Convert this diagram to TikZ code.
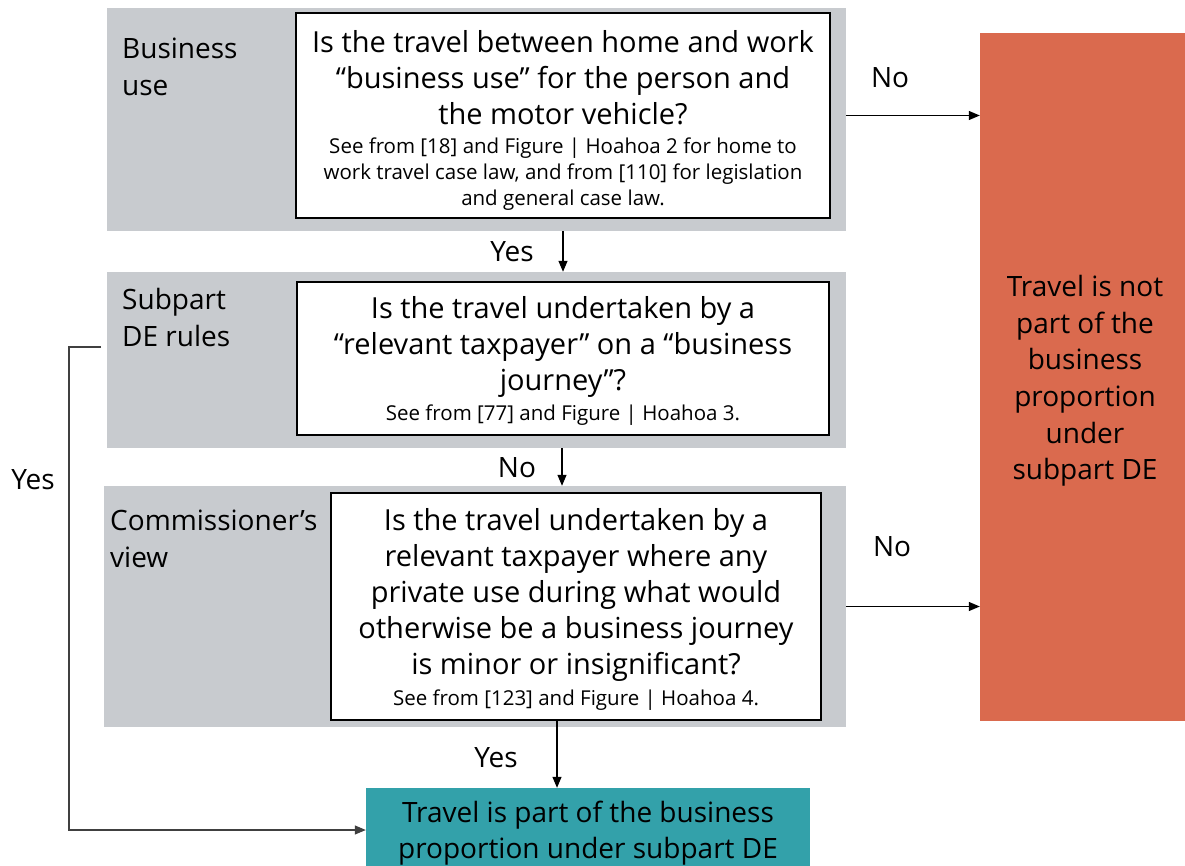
\documentclass[tikz,border=0pt]{standalone}
\usepackage{fontspec}
\setmainfont{Open Sans}
\usetikzlibrary{arrows.meta}
\definecolor{bandgray}{RGB}{200,203,207}
\definecolor{redbox}{RGB}{218,106,78}
\definecolor{tealbox}{RGB}{51,161,170}
\newcommand{\bigq}{\fontsize{29}{36}\selectfont}
\newcommand{\smallq}{\fontsize{20.5}{26}\selectfont}
\newcommand{\labf}{\fontsize{28}{37}\selectfont}
\tikzset{
  band/.style={fill=bandgray, draw=none, inner sep=0pt},
  qbox/.style={fill=white, draw=black, line width=1.6pt, inner sep=0pt},
  bigtxt/.style={inner sep=0pt, align=center, font=\bigq},
  smalltxt/.style={inner sep=0pt, align=center, font=\smallq},
  arr/.style={draw=black, line width=1.2pt, -{Triangle[length=11pt,width=9pt]}},
  lab/.style={inner sep=0pt, font=\labf},
  sidelab/.style={inner sep=0pt, font=\labf, align=left, anchor=north west},
}
\begin{document}
\begin{tikzpicture}[x=1pt,y=-1pt]
\useasboundingbox (0,0) rectangle (1185,866);
\clip (0,0) rectangle (1185,866);
% bands
\node[band, minimum width=739pt, minimum height=223pt] (band1) at (476.5,119.5) {};
\node[band, minimum width=739pt, minimum height=176pt] (band2) at (476.5,360) {};
\node[band, minimum width=742pt, minimum height=241pt] (band3) at (475,606.5) {};
% question boxes
\node[qbox, minimum width=534pt, minimum height=205pt] (box1) at (563,115.5) {};
\node[qbox, minimum width=532pt, minimum height=153pt] (box2) at (563,358.5) {};
\node[qbox, minimum width=490pt, minimum height=227pt] (box3) at (576,606.5) {};
\node[bigtxt] (q1) at (563,78) {Is the travel between home and work\\ “business use” for the person and\\ the motor vehicle?};
\node[smalltxt] (s1) at (563,174) {See from [18] and Figure | Hoahoa 2 for home to\\ work travel case law, and from [110] for legislation\\ and general case law.};
\node[bigtxt] (q2) at (563,347) {Is the travel undertaken by a\\ “relevant taxpayer” on a “business\\ journey”?};
\node[smalltxt] (s2) at (563,415) {See from [77] and Figure | Hoahoa 3.};
\node[bigtxt] (q3) at (576,595) {Is the travel undertaken by a\\ relevant taxpayer where any\\ private use during what would\\ otherwise be a business journey\\ is minor or insignificant?};
\node[smalltxt] (s3) at (576,700) {See from [123] and Figure | Hoahoa 4.};
% outcome boxes
\node[fill=redbox, draw=none, minimum width=205pt, minimum height=688pt, inner sep=0pt] (red) at (1082.5,377) {};
\node[align=center, font=\fontsize{28}{36.6}\selectfont, inner sep=0pt] (redtxt) at (1085,381)
 {Travel is not\\ part of the\\ business\\ proportion\\ under\\ subpart DE};
\node[fill=tealbox, draw=none, minimum width=444pt, minimum height=84pt, inner sep=0pt] (teal) at (588,830) {};
\node[align=center, font=\fontsize{28}{36}\selectfont, inner sep=0pt] (tealtxt) at (588,833)
 {Travel is part of the business\\ proportion under subpart DE};
% side labels
\node[sidelab] (l1) at (122,38) {Business\\ use};
\node[sidelab] (l2) at (122,288) {Subpart\\ DE rules};
\node[sidelab] (l3) at (110,510) {Commissioner’s\\ view};
% connectors
\draw[arr] (band1.east |- box1.east) -- (red.west |- box1.east);
\draw[arr] (band3.east) -- (red.west |- band3.east);
\draw[arr] (band1.south -| box1.south) -- (band2.north -| box1.south);
\draw[arr] ([xshift=-1pt]band2.south -| box2.south) -- ([xshift=-1pt]band3.north -| box2.south);
\coordinate (ydown) at ([xshift=-19pt]box3.south);
\draw[arr] (ydown) -- (ydown |- teal.north);
\coordinate (loopstart) at (101,347);
\coordinate (loopcorner) at (69,347);
\draw[arr, draw=black!75] (loopstart) -- (loopcorner) -- (loopcorner |- teal.west) -- (teal.west);
% connector labels
\node[lab] (no1) at (890,78) {No};
\node[lab] (no2) at (892,547) {No};
\node[lab] (yes1) at (512,252) {Yes};
\node[lab] (no3) at (517,468) {No};
\node[lab] (yes2) at (496,758) {Yes};
\node[lab] (yes3) at (33,480) {Yes};
\end{tikzpicture}
\end{document}
